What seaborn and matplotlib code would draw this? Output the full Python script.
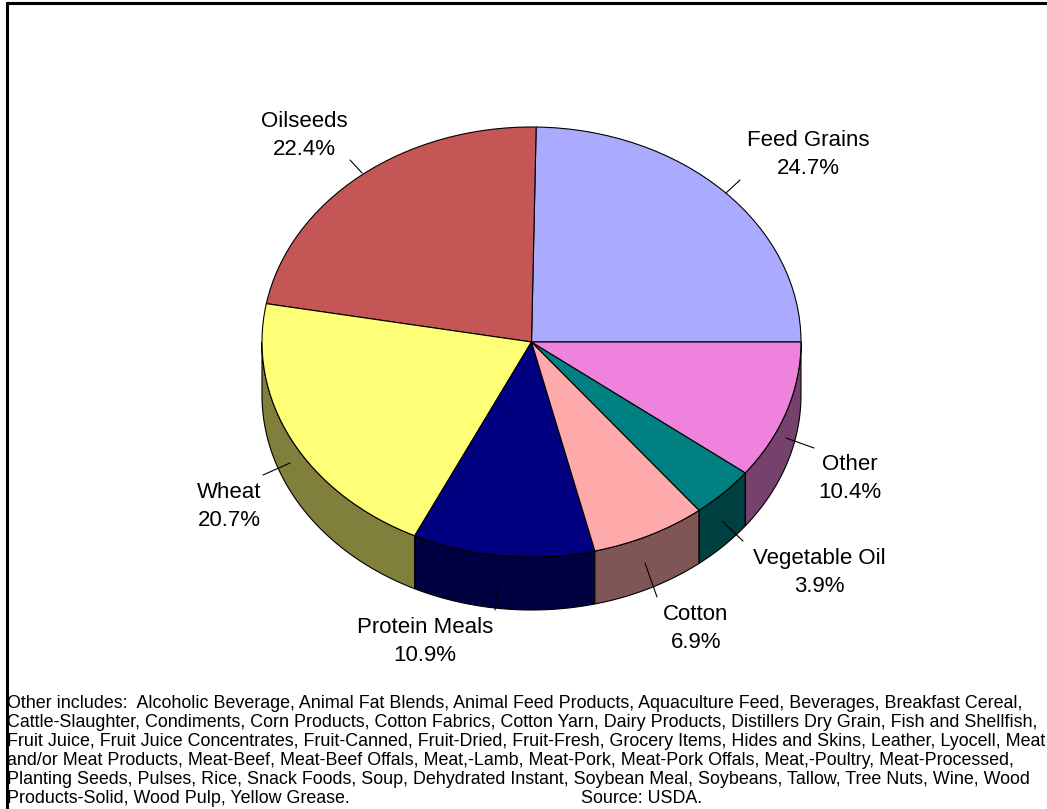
import numpy as np
import matplotlib
matplotlib.use("Agg")
import matplotlib.pyplot as plt
import seaborn as sns

categories = ["Feed Grains", "Oilseeds", "Wheat", "Protein Meals", "Cotton", "Vegetable Oil", "Other"]
shares = [24.7, 22.4, 20.7, 10.9, 6.9, 3.9, 10.4]
colors = ["#AAAAFF", "#C45656", "#FFFF77", "#000080", "#FFAAAA", "#008080", "#EE82DC"]

footnote = [
    "Other includes:  Alcoholic Beverage, Animal Fat Blends, Animal Feed Products, Aquaculture Feed, Beverages, Breakfast Cereal,",
    "Cattle-Slaughter, Condiments, Corn Products, Cotton Fabrics, Cotton Yarn, Dairy Products, Distillers Dry Grain, Fish and Shellfish,",
    "Fruit Juice, Fruit Juice Concentrates, Fruit-Canned, Fruit-Dried, Fruit-Fresh, Grocery Items, Hides and Skins, Leather, Lyocell, Meat",
    "and/or Meat Products, Meat-Beef, Meat-Beef Offals, Meat,-Lamb, Meat-Pork, Meat-Pork Offals, Meat,-Poultry, Meat-Processed,",
    "Planting Seeds, Pulses, Rice, Snack Foods, Soup, Dehydrated Instant, Soybean Meal, Soybeans, Tallow, Tree Nuts, Wine, Wood",
    "Products-Solid, Wood Pulp, Yellow Grease.",
]
source = "Source: USDA."

# layout in pixels of the 1047x809 picture, labels are given by baseline
W, H = 1047, 809
cx, cy, rx, ry, depth = 531.5, 342, 269.5, 215, 53
label_pos = [(808, 146), (304, 127), (229, 498), (425, 633), (696, 620), (819, 564), (850, 470)]
leaders = [((726, 193), (740, 180)), ((362, 173), (350, 160)), ((290, 463), (263, 475)),
           ((498, 583), (495, 610)), ((645, 563), (657, 597)), ((722, 521), (743, 541)),
           ((786, 438), (814, 448))]

sns.set_theme(style="white", font="Liberation Sans")
palette = sns.color_palette(colors)
lw = 0.8

fig = plt.figure(figsize=(W / 100, H / 100), dpi=100, facecolor="white")
ax = fig.add_axes([0, 0, 1, 1])

# side wall of the front half, below the top face
d = depth / ry
edges = 360 * np.cumsum([0] + shares) / sum(shares)
for i, col in enumerate(palette):
    lo, hi = max(edges[i], 180), min(edges[i + 1], 360)
    if hi <= lo:
        continue
    t = np.radians(np.linspace(lo, hi, 80))
    x = np.cos(t)
    y = np.sin(t)
    ax.fill(np.r_[x, x[::-1]], np.r_[y, y[::-1] - d], facecolor=[c * 0.5 for c in col],
            edgecolor="black", linewidth=lw)

ax.pie(shares, colors=palette, startangle=0, counterclock=True,
       wedgeprops={"edgecolor": "black", "linewidth": lw})
ax.set_aspect("auto")
ax.set_xlim((0 - cx) / rx, (W - cx) / rx)
ax.set_ylim((cy - H) / ry, cy / ry)
ax.axis("off")

# overlay in picture pixels for labels, leaders, footnote and frame
ov = fig.add_axes([0, 0, 1, 1], facecolor="none")
ov.set_xlim(0, W)
ov.set_ylim(H, 0)
ov.axis("off")

for name, share, (px, py), (a, b) in zip(categories, shares, label_pos, leaders):
    ov.text(px, py, name, ha="center", va="baseline", fontsize=16, color="black")
    ov.text(px, py + 28, f"{share}%", ha="center", va="baseline", fontsize=16, color="black")
    ov.plot([a[0], b[0]], [a[1], b[1]], color="black", lw=lw)

for i, line in enumerate(footnote):
    ov.text(7, 708 + 19 * i, line, ha="left", va="baseline", fontsize=12.85, color="black")
ov.text(581, 803, source, ha="left", va="baseline", fontsize=12.85, color="black")

# only the top and left of the outer frame show
ov.plot([6.5, 6.5, W], [H, 2.5, 2.5], color="black", lw=2.2, solid_joinstyle="miter")

fig.savefig("out.png", dpi=100)
